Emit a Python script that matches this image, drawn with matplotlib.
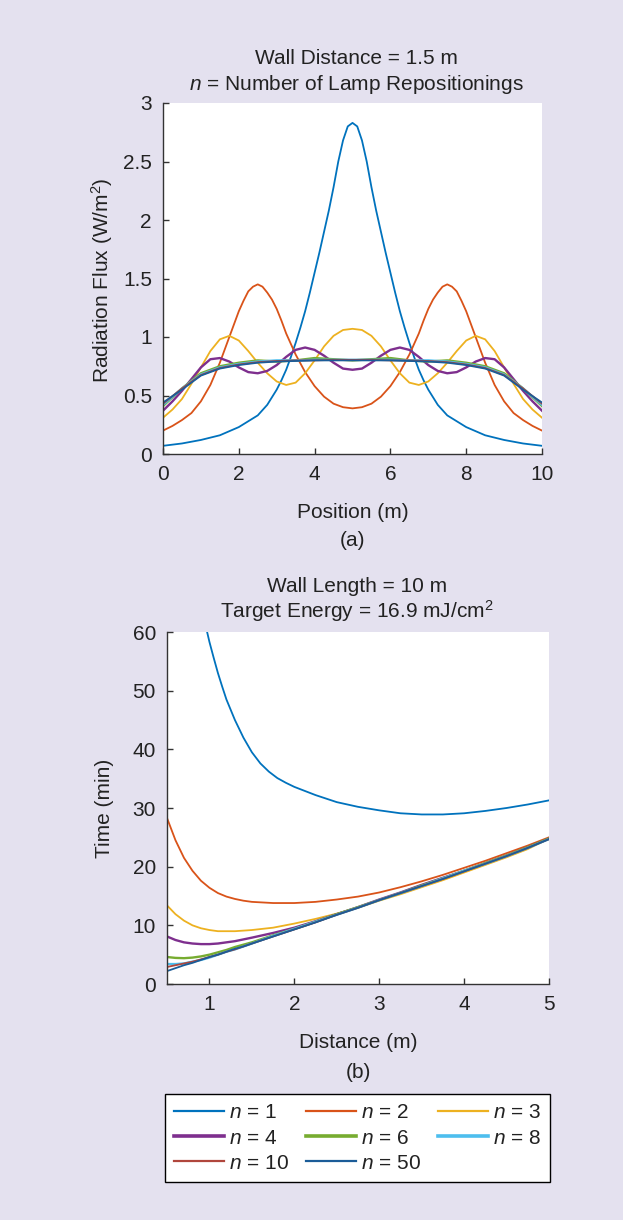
import numpy as np
import matplotlib
matplotlib.use('Agg')
import matplotlib.pyplot as plt

plt.rcParams['font.family'] = ['Liberation Sans', 'DejaVu Sans']
plt.rcParams['mathtext.fontset'] = 'custom'
plt.rcParams['mathtext.rm'] = 'Liberation Sans'
plt.rcParams['mathtext.it'] = 'Liberation Sans:italic'

# ---- data: (a) radiation flux vs position ----
pos = np.arange(0, 10.01, 0.25)
pos_coarse = np.arange(0, 10.01, 0.5)
pos_n1 = [0, 0.5, 1.0, 1.5, 2.0, 2.5, 2.75, 3.0, 3.125, 3.25, 3.375, 3.5, 3.625, 3.75, 3.875,
          4.0, 4.125, 4.25, 4.375, 4.5, 4.625, 4.75, 4.875, 5.0, 5.125, 5.25, 5.375, 5.5, 5.625,
          5.75, 5.875, 6.0, 6.125, 6.25, 6.375, 6.5, 6.625, 6.75, 6.875, 7.0, 7.25, 7.5, 8.0,
          8.5, 9.0, 9.5, 10.0]
flux_n1 = [0.07, 0.09, 0.12, 0.16, 0.23, 0.33, 0.42, 0.55, 0.63, 0.72, 0.83, 0.95, 1.08, 1.22, 1.38,
           1.55, 1.72, 1.90, 2.08, 2.28, 2.50, 2.68, 2.80, 2.83, 2.80, 2.68, 2.50, 2.28, 2.08,
           1.90, 1.72, 1.55, 1.38, 1.22, 1.08, 0.95, 0.83, 0.72, 0.63, 0.55, 0.42, 0.33, 0.23,
           0.16, 0.12, 0.09, 0.07]
pos_n2 = [0, 0.25, 0.5, 0.75, 1.0, 1.25, 1.5, 1.75, 1.875, 2.0, 2.125, 2.25, 2.375, 2.5, 2.625,
          2.75, 2.875, 3.0, 3.125, 3.25, 3.5, 3.75, 4.0, 4.25, 4.5, 4.75, 5.0, 5.25, 5.5, 5.75,
          6.0, 6.25, 6.5, 6.75, 6.875, 7.0, 7.125, 7.25, 7.375, 7.5, 7.625, 7.75, 7.875, 8.0,
          8.125, 8.25, 8.5, 8.75, 9.0, 9.25, 9.5, 9.75, 10.0]
flux_n2 = [0.20, 0.24, 0.29, 0.35, 0.45, 0.59, 0.78, 1.00, 1.11, 1.22, 1.31, 1.39, 1.43, 1.45, 1.43,
           1.38, 1.32, 1.24, 1.14, 1.03, 0.85, 0.70, 0.58, 0.49, 0.43, 0.40, 0.39, 0.40, 0.43, 0.49,
           0.58, 0.70, 0.85, 1.03, 1.14, 1.24, 1.32, 1.38, 1.43, 1.45, 1.43, 1.39, 1.31, 1.22,
           1.11, 1.00, 0.78, 0.59, 0.45, 0.35, 0.29, 0.24, 0.20]
flux_n3 = [0.31, 0.38, 0.47, 0.60, 0.74, 0.88, 0.98, 1.01, 0.97, 0.88, 0.78, 0.69, 0.62, 0.59, 0.61,
           0.69, 0.80, 0.92, 1.01, 1.06, 1.07, 1.06, 1.01, 0.92, 0.80, 0.69, 0.61, 0.59, 0.62, 0.69,
           0.78, 0.88, 0.97, 1.01, 0.98, 0.88, 0.74, 0.60, 0.47, 0.38, 0.31]
flux_n4 = [0.37, 0.45, 0.54, 0.64, 0.74, 0.81, 0.82, 0.79, 0.74, 0.70, 0.69, 0.71, 0.76, 0.83, 0.89,
           0.91, 0.89, 0.84, 0.78, 0.73, 0.72, 0.73, 0.78, 0.84, 0.89, 0.91, 0.89, 0.83, 0.76, 0.71,
           0.69, 0.70, 0.74, 0.79, 0.82, 0.81, 0.74, 0.64, 0.54, 0.45, 0.37]
flux_n6 = [0.41, 0.56, 0.69, 0.75, 0.78, 0.80, 0.79, 0.80, 0.82, 0.81, 0.80,
           0.81, 0.82, 0.80, 0.79, 0.80, 0.78, 0.75, 0.69, 0.56, 0.41]
flux_n8 = [0.42, 0.56, 0.68, 0.74, 0.77, 0.79, 0.80, 0.80, 0.805, 0.805, 0.805,
           0.805, 0.805, 0.80, 0.80, 0.79, 0.77, 0.74, 0.68, 0.56, 0.42]
flux_n10 = [0.43, 0.56, 0.675, 0.735, 0.765, 0.785, 0.795, 0.80, 0.80, 0.805, 0.805,
            0.805, 0.80, 0.80, 0.795, 0.785, 0.765, 0.735, 0.675, 0.56, 0.43]
flux_n50 = [0.44, 0.55, 0.67, 0.73, 0.76, 0.78, 0.79, 0.795, 0.80, 0.80, 0.80,
            0.80, 0.80, 0.795, 0.79, 0.78, 0.76, 0.73, 0.67, 0.55, 0.44]

# ---- data: (b) time vs distance ----
dist = [0.5, 0.6, 0.7, 0.8, 0.9, 1.0, 1.1, 1.2, 1.3, 1.4, 1.5, 1.75, 2.0, 2.25, 2.5, 2.75,
        3.0, 3.25, 3.5, 3.75, 4.0, 4.25, 4.5, 4.75, 5.0]
dist_n1 = [0.95, 1.0, 1.05, 1.1, 1.15, 1.2, 1.3, 1.4, 1.5, 1.6, 1.7, 1.8, 1.9, 2.0, 2.25, 2.5, 2.75,
           3.0, 3.25, 3.5, 3.75, 4.0, 4.25, 4.5, 4.75, 5.0]
time_n1 = [61.4, 58.3, 55.6, 53.0, 50.7, 48.5, 45.0, 42.0, 39.5, 37.6, 36.2, 35.1, 34.3, 33.6, 32.2,
           31.0, 30.2, 29.6, 29.1, 28.9, 28.9, 29.1, 29.5, 30.0, 30.6, 31.3]
time_n2 = [28.3, 24.5, 21.5, 19.3, 17.6, 16.4, 15.5, 14.9, 14.5, 14.2, 14.0, 13.8, 13.8, 14.0, 14.4, 14.9,
           15.6, 16.5, 17.5, 18.6, 19.8, 21.0, 22.3, 23.6, 25.0]
time_n3 = [13.4, 11.9, 10.8, 10.0, 9.5, 9.2, 9.0, 9.0, 9.0, 9.1, 9.2, 9.6, 10.3, 11.1, 12.0, 13.0,
           14.2, 15.3, 16.5, 17.7, 19.0, 20.3, 21.6, 23.0, 24.8]
time_n4 = [8.1, 7.5, 7.1, 6.9, 6.8, 6.8, 6.9, 7.1, 7.3, 7.6, 7.9, 8.7, 9.6, 10.7, 11.9, 13.1,
           14.4, 15.6, 16.9, 18.1, 19.3, 20.6, 21.9, 23.3, 24.8]
time_n6 = [4.6, 4.45, 4.4, 4.5, 4.7, 5.0, 5.4, 5.8, 6.3, 6.7, 7.1, 8.3, 9.4, 10.6, 11.9, 13.1,
           14.3, 15.5, 16.8, 18.0, 19.3, 20.6, 21.9, 23.3, 24.8]
time_n8 = [3.4, 3.4, 3.5, 3.8, 4.1, 4.5, 5.0, 5.5, 5.9, 6.4, 6.9, 8.2, 9.4, 10.6, 11.8, 13.0,
           14.3, 15.5, 16.7, 18.0, 19.3, 20.5, 21.8, 23.2, 24.7]
time_n10 = [2.9, 3.2, 3.5, 3.8, 4.2, 4.6, 5.0, 5.5, 5.9, 6.4, 6.9, 8.1, 9.3, 10.5, 11.8, 13.0,
            14.3, 15.5, 16.7, 17.9, 19.2, 20.5, 21.8, 23.2, 24.7]
time_n50 = [2.2, 2.7, 3.2, 3.6, 4.1, 4.6, 5.0, 5.5, 6.0, 6.4, 6.9, 8.1, 9.3, 10.5, 11.8, 13.0,
            14.3, 15.5, 16.7, 17.9, 19.2, 20.5, 21.8, 23.2, 24.7]

n_labels = ['1', '2', '3', '4', '6', '8', '10', '50']
colors = ['#0072BD', '#D95319', '#EDB120', '#7E2F8E', '#77AC30', '#4DBEEE', '#B0463C', '#1B5C98']
widths = [1.3, 1.3, 1.3, 1.7, 1.7, 1.7, 1.3, 1.3]

a_xticks = [0, 2, 4, 6, 8, 10]
a_yticks = [0, 0.5, 1, 1.5, 2, 2.5, 3]
a_yticklabels = ['0', '0.5', '1', '1.5', '2', '2.5', '3']
b_xticks = [1, 2, 3, 4, 5]
b_yticks = [0, 10, 20, 30, 40, 50, 60]

bg = '#e4e1ef'
txt = '#222222'
fs = 15

H = 1220.0
W = 623.0

fig = plt.figure(figsize=(6.23, 12.2), dpi=100, facecolor=bg)

ax1 = fig.add_axes([163 / W, 1 - 454 / H, 379 / W, 351 / H])
ax2 = fig.add_axes([167 / W, 1 - 984 / H, 382 / W, 352 / H])

flux_sets = [(pos_n1, flux_n1), (pos_n2, flux_n2), (pos, flux_n3), (pos, flux_n4),
             (pos_coarse, flux_n6), (pos_coarse, flux_n8), (pos_coarse, flux_n10), (pos_coarse, flux_n50)]
time_sets = [(dist_n1, time_n1), (dist, time_n2), (dist, time_n3), (dist, time_n4),
             (dist, time_n6), (dist, time_n8), (dist, time_n10), (dist, time_n50)]

handles = []
for i in range(len(n_labels)):
    xs, ys = flux_sets[i]
    ax1.plot(xs, ys, color=colors[i], lw=widths[i])
    xs, ys = time_sets[i]
    ax2.plot(xs, ys, color=colors[i], lw=widths[i])
    # legend proxies (the n = 4, 6, 8 keys are drawn thicker)
    lw_leg = 2.6 if i in (3, 4, 5) else 1.6
    h, = ax2.plot([], [], color=colors[i], lw=lw_leg, label='$n$ = ' + n_labels[i])
    handles.append(h)

for ax in (ax1, ax2):
    ax.set_facecolor('white')
    for s in ['top', 'right']:
        ax.spines[s].set_visible(False)
    for s in ['left', 'bottom']:
        ax.spines[s].set_color('#333333')
        ax.spines[s].set_linewidth(1.0)
    ax.tick_params(direction='in', length=4, width=1, colors='#333333', labelcolor=txt,
                   labelsize=fs)
    ax.tick_params(axis='y', pad=8)
    ax.tick_params(axis='x', pad=8)

ax1.set_xlim(0, 10)
ax1.set_ylim(0, 3)
ax1.set_xticks(a_xticks)
ax1.set_yticks(a_yticks)
ax1.set_yticklabels(a_yticklabels)

ax2.set_xlim(0.5, 5)
ax2.set_ylim(0, 60)
ax2.set_xticks(b_xticks)
ax2.set_yticks(b_yticks)

cx1 = (163 + 542) / 2 / W
cx2 = (167 + 549) / 2 / W
fig.text(356 / W, 1 - 64 / H, 'Wall Distance = 1.5 m', ha='center', va='baseline', fontsize=fs, color=txt)
fig.text(356 / W, 1 - 90 / H, '$n$ = Number of Lamp Repositionings', ha='center', va='baseline',
         fontsize=fs, color=txt)
fig.text(cx1, 1 - 512 / H, 'Position (m)', ha='center', va='center', fontsize=fs, color=txt)
fig.text(cx1, 1 - 541 / H, '(a)', ha='center', va='center', fontsize=fs, color=txt)
fig.text(102 / W, 1 - 280 / H, 'Radiation Flux (W/m$^2$)', ha='center', va='center', rotation=90,
         fontsize=fs, color=txt)

fig.text(357 / W, 1 - 592 / H, 'Wall Length = 10 m', ha='center', va='baseline', fontsize=fs, color=txt)
fig.text(357 / W, 1 - 618 / H, 'Target Energy = 16.9 mJ/cm$^2$', ha='center', va='baseline',
         fontsize=fs, color=txt)
fig.text(cx2, 1 - 1043 / H, 'Distance (m)', ha='center', va='center', fontsize=fs, color=txt)
fig.text(cx2, 1 - 1072 / H, '(b)', ha='center', va='center', fontsize=fs, color=txt)
fig.text(105 / W, 1 - 808 / H, 'Time (min)', ha='center', va='center', rotation=90,
         fontsize=fs, color=txt)

# row-wise legend order for a column-filled 3-column legend
order = [0, 3, 6, 1, 4, 7, 2, 5]
leg = fig.legend([handles[k] for k in order], [handles[k].get_label() for k in order],
                 ncol=3, loc='center', bbox_to_anchor=((168 + 547) / 2 / W, 1 - 1138 / H),
                 fontsize=fs, frameon=True, fancybox=False, edgecolor='black', facecolor='white',
                 framealpha=1, handlelength=2.4, handletextpad=0.25, columnspacing=0.8,
                 labelspacing=0.3, borderpad=0.45, borderaxespad=0)
leg.get_frame().set_linewidth(1.0)
for t in leg.get_texts():
    t.set_color(txt)

fig.savefig('out.png', dpi=100, facecolor=bg)
